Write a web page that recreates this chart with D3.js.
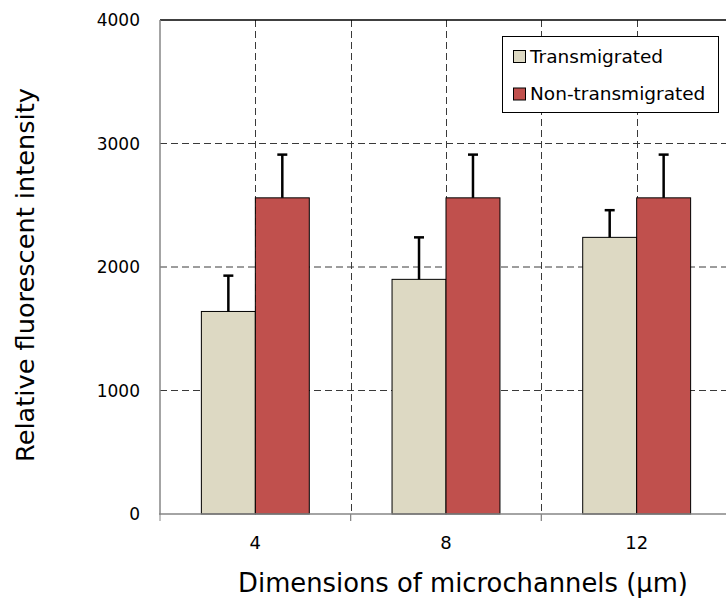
<!DOCTYPE html>
<html><head><meta charset="utf-8">
<script src="https://cdn.jsdelivr.net/npm/d3@7"></script>
<style>body{margin:0;background:#fff}svg{display:block}text{font-family:"DejaVu Sans",Verdana,sans-serif;fill:#000}</style>
</head><body><svg id="c" width="726" height="599"></svg>
<script>
const categories = ["4", "8", "12"];
const seriesNames = ["Transmigrated", "Non-transmigrated"];
const transmigrated = [1640, 1900, 2240];
const transmigratedErr = [290, 340, 220];
const nonTransmigrated = [2560, 2560, 2560];
const nonTransmigratedErr = [350, 350, 350];
const yTicks = [0, 1000, 2000, 3000, 4000];
const colors = ["#DDD9C3", "#C0504D"];

const svg = d3.select("#c");
const L = 160, R = 732, T = 20, B = 514;
const x = d3.scaleBand().domain(categories).range([L, R]).padding(0);
const bw = x.bandwidth();
const x1 = d3.scaleBand().domain(seriesNames).range([bw * 0.217, bw * 0.783]).padding(0);
const y = d3.scaleLinear().domain([0, 4000]).range([B, T]);

const data = categories.map((c, i) => ({
  cat: c,
  vals: [
    {s: seriesNames[0], v: transmigrated[i], e: transmigratedErr[i], col: colors[0]},
    {s: seriesNames[1], v: nonTransmigrated[i], e: nonTransmigratedErr[i], col: colors[1]}
  ]
}));

// grid
const g = svg.append("g");
yTicks.filter(t => t > 0 && t < 4000).forEach(t => {
  g.append("line").attr("x1", L).attr("x2", R).attr("y1", y(t)).attr("y2", y(t))
    .attr("stroke", "#3a3a3a").attr("stroke-width", 1).attr("stroke-dasharray", "7,4");
});
const vlines = [];
categories.forEach((c, i) => {
  vlines.push(x(c) + bw / 2);
  if (i < categories.length - 1) vlines.push(x(c) + bw);
});
vlines.forEach(vx => {
  g.append("line").attr("x1", Math.round(vx) + 0.5).attr("x2", Math.round(vx) + 0.5).attr("y1", T).attr("y2", B)
    .attr("stroke", "#3a3a3a").attr("stroke-width", 1).attr("stroke-dasharray", "7,4");
});
// top border
svg.append("line").attr("x1", L).attr("x2", R).attr("y1", y(4000)).attr("y2", y(4000))
  .attr("stroke", "#000").attr("stroke-width", 1.5);

// bars
const groups = svg.append("g").selectAll("g").data(data).join("g")
  .attr("transform", d => `translate(${x(d.cat)},0)`);
groups.selectAll("rect").data(d => d.vals).join("rect")
  .attr("x", d => x1(d.s)).attr("width", x1.bandwidth())
  .attr("y", d => y(d.v)).attr("height", d => y(0) - y(d.v))
  .attr("fill", d => d.col).attr("stroke", "#000").attr("stroke-width", 1);
groups.selectAll("line.err").data(d => d.vals).join("line").attr("class", "err")
  .attr("x1", d => x1(d.s) + x1.bandwidth() / 2).attr("x2", d => x1(d.s) + x1.bandwidth() / 2)
  .attr("y1", d => y(d.v)).attr("y2", d => y(d.v + d.e))
  .attr("stroke", "#000").attr("stroke-width", 2.5);
groups.selectAll("line.cap").data(d => d.vals).join("line").attr("class", "cap")
  .attr("x1", d => x1(d.s) + x1.bandwidth() / 2 - 5).attr("x2", d => x1(d.s) + x1.bandwidth() / 2 + 5)
  .attr("y1", d => y(d.v + d.e)).attr("y2", d => y(d.v + d.e))
  .attr("stroke", "#000").attr("stroke-width", 2.5);

// axes
svg.append("line").attr("x1", L).attr("x2", L).attr("y1", T).attr("y2", B + 0.5)
  .attr("stroke", "#868686").attr("stroke-width", 1.5);
svg.append("line").attr("x1", L - 1).attr("x2", R).attr("y1", B).attr("y2", B)
  .attr("stroke", "#868686").attr("stroke-width", 1.5);
categories.forEach((c, i) => {
  [x(c), x(c) + bw].forEach(tx => {
    svg.append("line").attr("x1", tx).attr("x2", tx).attr("y1", B).attr("y2", B + 7)
      .attr("stroke", "#868686").attr("stroke-width", 1);
  });
});

// y tick labels
svg.append("g").selectAll("text").data(yTicks).join("text")
  .attr("x", 140).attr("y", d => y(d)).attr("dy", "0.36em")
  .attr("text-anchor", "end").attr("font-size", 17).text(d => d);
// x tick labels
svg.append("g").selectAll("text").data(categories).join("text")
  .attr("x", d => x(d) + bw / 2).attr("y", 549)
  .attr("text-anchor", "middle").attr("font-size", 18).text(d => d);

// titles
function fit(sel, target) {
  const w = sel.node().getComputedTextLength();
  const fs = parseFloat(sel.attr("font-size"));
  sel.attr("font-size", fs * target / w);
}
const xt = svg.append("text").attr("x", 463).attr("y", 592).attr("text-anchor", "middle")
  .attr("font-size", 26).text("Dimensions of microchannels (µm)");
fit(xt, 450);
const yt = svg.append("text").attr("transform", "translate(34,275) rotate(-90)")
  .attr("text-anchor", "middle").attr("font-size", 26).text("Relative fluorescent intensity");
fit(yt, 374);

// legend
const lg = svg.append("g");
lg.append("rect").attr("x", 502.5).attr("y", 36.5).attr("width", 216).attr("height", 76)
  .attr("fill", "#fff").attr("stroke", "#000").attr("stroke-width", 1);
seriesNames.forEach((s, i) => {
  const yy = 50 + i * 37.5;
  lg.append("rect").attr("x", 513.5).attr("y", yy + 0.5).attr("width", 12).attr("height", 12)
    .attr("fill", colors[i]).attr("stroke", "#000").attr("stroke-width", 1);
  lg.append("text").attr("x", 530).attr("y", yy + 12.8).attr("font-size", 18.5).text(s);
});
</script></body></html>
